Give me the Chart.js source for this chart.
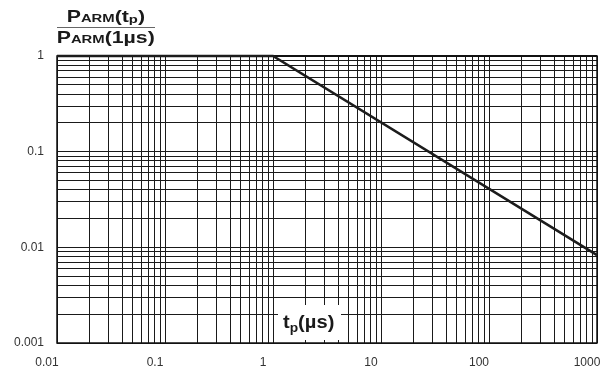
<!DOCTYPE html>
<html>
<head>
<meta charset="utf-8">
<script src="https://cdn.jsdelivr.net/npm/chart.js@4.4.1/dist/chart.umd.min.js"></script>
<style>
html,body{margin:0;padding:0;background:#fff}
#wrap{width:609px;height:369px}
</style>
</head>
<body>
<div id="wrap"><canvas id="PulseChartHTML" width="609" height="369"></canvas></div>
<script>
//												Data
const tpValues=[0.01,1,1000]
const ratioValues=[1,1,0.0083]
const xLabelValues=[0.01,0.1,1,10,100,1000]
const yLabelValues=[0.001,0.01,0.1,1]
const gridMultipliers=[1,2,3,4,5,6,7,8,9]

//												Helper Functions
function GridFrom(decades){let out=[];decades.forEach((d,i)=>{if(i==decades.length-1){out.push(d)}else{gridMultipliers.forEach(m=>out.push(Number((m*d).toPrecision(6))))}});return out}
function LabelOf(list,v){return list.includes(v)?String(v):''}
function NoPad(s){s.paddingLeft=0;s.paddingRight=0;s.paddingTop=0;s.paddingBottom=0}
const FONT='"Liberation Sans", Arial, Helvetica, sans-serif'

function DrawRich(ctx,parts,x,base,sx){
	ctx.save();ctx.translate(x,base);ctx.scale(sx,1);ctx.textAlign='left';ctx.textBaseline='alphabetic';ctx.fillStyle='#1a1a1a'
	let cx=0
	parts.forEach(p=>{ctx.font='bold '+p[1]+'px '+FONT;ctx.fillText(p[0],cx,p[2]||0);cx+=ctx.measureText(p[0]).width})
	ctx.restore()
}

//												Plugins
const framePlugin={id:'frame',beforeDatasetsDraw(chart){
	const {ctx,chartArea:a}=chart
	ctx.save();ctx.strokeStyle='#111';ctx.lineWidth=1.5
	ctx.strokeRect(a.left,a.top,a.right-a.left,a.bottom-a.top)
	ctx.lineWidth=2;ctx.beginPath();ctx.moveTo(a.left,a.top);ctx.lineTo(a.right,a.top);ctx.stroke()
	ctx.restore()
}}

const textPlugin={id:'texts',afterDraw(chart){
	const ctx=chart.ctx
	// y title as a fraction
	DrawRich(ctx,[['P',16.5],['ARM',11.5],['(t',16.5],['p',11.5,1],[')',16.5]],66.7,21.5,1.29)
	ctx.save();ctx.strokeStyle='#666';ctx.lineWidth=1.2;ctx.beginPath();ctx.moveTo(57,27.5);ctx.lineTo(155,27.5);ctx.stroke();ctx.restore()
	DrawRich(ctx,[['P',16.5],['ARM',11.5],['(1µs)',16.5]],56.7,42.7,1.29)
	// x title inside the plot on a white box
	ctx.save();ctx.fillStyle='#fff';ctx.fillRect(278,305,63,35);ctx.restore()
	DrawRich(ctx,[['t',19],['p',13,4.5],['(µs)',19]],283,327.5,1.06)
}}

//												Chart
let PulseChart=new Chart(
	document.getElementById('PulseChartHTML'),
	{
		type:'scatter',
		plugins:[framePlugin,textPlugin],
		data:{
			datasets:[{
				data:tpValues.map((t,i)=>({x:t,y:ratioValues[i]})),
				showLine:true,
				borderColor:'#1c1c1c',
				borderWidth:2.6,
				pointRadius:0,
				tension:0,
				clip:3
			}]
		},
		options:{
			responsive:false,
			animation:false,
			layout:{padding:{left:0,top:56,right:12,bottom:0}},
			plugins:{legend:{display:false},tooltip:{enabled:false},title:{display:false}},
			scales:{
				x:{
					type:'logarithmic',min:0.01,max:1000,
					afterBuildTicks:s=>{s.ticks=GridFrom(xLabelValues).map(v=>({value:v}))},
					afterFit:s=>{s.height=26;NoPad(s)},
					grid:{color:'#1a1a1a',lineWidth:1,drawTicks:false},
					border:{display:false},
					ticks:{autoSkip:false,maxRotation:0,padding:12,labelOffset:-10,color:'#333',font:{family:FONT,size:12},callback:v=>LabelOf(xLabelValues,v)}
				},
				y:{
					type:'logarithmic',min:0.001,max:1,
					afterBuildTicks:s=>{s.ticks=GridFrom(yLabelValues).map(v=>({value:v}))},
					afterFit:s=>{s.width=57;NoPad(s)},
					grid:{color:'#1a1a1a',lineWidth:1,drawTicks:false},
					border:{display:false},
					ticks:{autoSkip:false,padding:13,color:'#333',font:{family:FONT,size:12},callback:v=>LabelOf(yLabelValues,v)}
				}
			}
		}
	}
)
</script>
</body>
</html>
